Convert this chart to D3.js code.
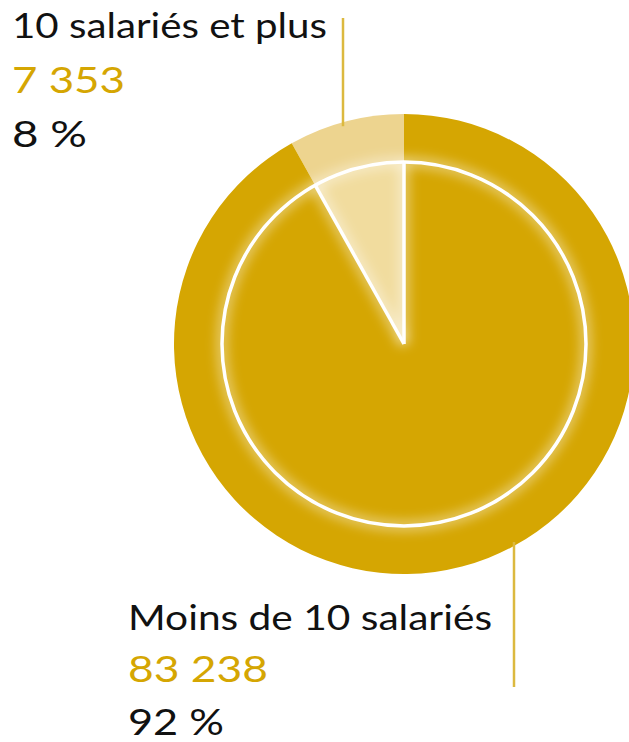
<!DOCTYPE html>
<html>
<head>
<meta charset="utf-8">
<script src="https://cdn.jsdelivr.net/npm/d3@7.9.0/dist/d3.min.js"></script>
<style>
  html, body { margin: 0; padding: 0; background: #fff; }
  svg { display: block; }
  text { font-family: "Lato", "DejaVu Sans", sans-serif; }
</style>
</head>
<body>
<svg width="629" height="742"></svg>
<script>
// data
const categories = ['10 salariés et plus', 'Moins de 10 salariés'];
const values = [7353, 83238];
const percents = ['8 %', '92 %'];
const counts = ['7 353', '83 238'];

const gold = '#d5a602';
const lightGold = '#edd48f';
const lineGold = '#dcb93f';

const svg = d3.select('svg');
const cx = 404, cy = 344, R = 230, r = 182;

const total = d3.sum(values);
const start = -2 * Math.PI * values[0] / total;

const pie = d3.pie().sort(null).startAngle(start).endAngle(start + 2 * Math.PI);
const arcData = pie(values);

const defs = svg.append('defs');
defs.append('filter').attr('id', 'glow')
  .attr('x', '-20%').attr('y', '-20%').attr('width', '140%').attr('height', '140%')
  .append('feGaussianBlur').attr('stdDeviation', 6);

const g = svg.append('g').attr('transform', `translate(${cx},${cy})`);

const outerArc = d3.arc().innerRadius(0).outerRadius(R);
const innerArc = d3.arc().innerRadius(0).outerRadius(r);

g.selectAll('path.outer')
  .data(arcData)
  .join('path')
  .attr('class', 'outer')
  .attr('d', outerArc)
  .attr('fill', (d, i) => i === 0 ? lightGold : gold);

g.selectAll('path.inner')
  .data(arcData)
  .join('path')
  .attr('class', 'inner')
  .attr('d', innerArc)
  .attr('fill', (d, i) => i === 0 ? '#f1dc9e' : gold);

// white glow + crisp lines
const drawWhite = (sel, w, op) => {
  sel.append('circle').attr('r', r).attr('fill', 'none')
    .attr('stroke', '#fff').attr('stroke-width', w).attr('opacity', op);
  [arcData[0].startAngle, arcData[0].endAngle].forEach(a => {
    sel.append('line')
      .attr('x1', 0).attr('y1', 0)
      .attr('x2', r * Math.sin(a)).attr('y2', -r * Math.cos(a))
      .attr('stroke', '#fff').attr('stroke-width', w).attr('opacity', op);
  });
};
drawWhite(g.append('g').attr('filter', 'url(#glow)'), 10, 0.45);
drawWhite(g.append('g'), 3.5, 1);

// leader lines
const leaderTopX = 343;
svg.append('line')
  .attr('x1', leaderTopX).attr('x2', leaderTopX)
  .attr('y1', 18).attr('y2', cy - Math.sqrt(R * R - (leaderTopX - cx) ** 2) + 4)
  .attr('stroke', lineGold).attr('stroke-width', 2.5);

const leaderBotX = 514;
svg.append('line')
  .attr('x1', leaderBotX).attr('x2', leaderBotX)
  .attr('y1', cy + Math.sqrt(R * R - (leaderBotX - cx) ** 2) - 4).attr('y2', 687)
  .attr('stroke', lineGold).attr('stroke-width', 2.5);

// labels
const labels = [
  { x: 12, y: [38, 93, 147], w: [315, 113, 75] },
  { x: 128, y: [630, 682, 735], w: [364, 140, 96] }
];

labels.forEach((l, i) => {
  const t = svg.append('g');
  t.append('text').attr('x', l.x).attr('y', l.y[0]).attr('font-size', 35)
    .attr('fill', '#111').attr('textLength', l.w[0]).attr('lengthAdjust', 'spacingAndGlyphs')
    .text(categories[i]);
  t.append('text').attr('x', l.x).attr('y', l.y[1]).attr('font-size', 37)
    .attr('fill', gold).attr('textLength', l.w[1]).attr('lengthAdjust', 'spacingAndGlyphs')
    .text(counts[i]);
  t.append('text').attr('x', l.x).attr('y', l.y[2]).attr('font-size', 37)
    .attr('fill', '#111').attr('textLength', l.w[2]).attr('lengthAdjust', 'spacingAndGlyphs')
    .text(percents[i]);
});
</script>
</body>
</html>
